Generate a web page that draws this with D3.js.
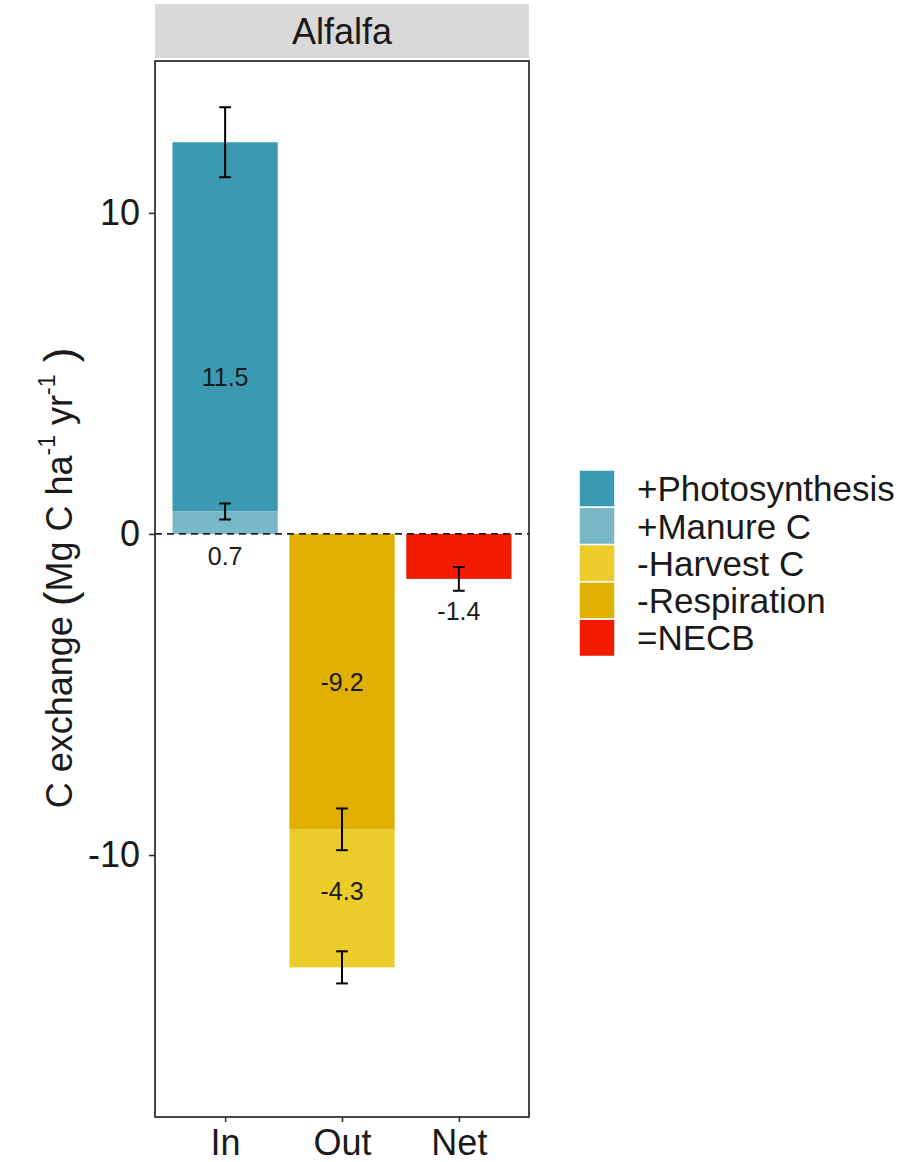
<!DOCTYPE html>
<html>
<head>
<meta charset="utf-8">
<script src="https://cdn.jsdelivr.net/npm/d3@7"></script>
<style>
  html, body { margin: 0; padding: 0; background: #fff; }
  svg { display: block; font-family: "Liberation Sans", Arial, sans-serif; }
</style>
</head>
<body>
<svg id="chart" width="915" height="1162"></svg>
<script>
// ---- data ----
const facetTitle = "Alfalfa";
const categories = ["In", "Out", "Net"];
const components = ["+Photosynthesis", "+Manure C", "-Harvest C", "-Respiration", "=NECB"];
const componentCategory = ["In", "In", "Out", "Out", "Net"];
const componentValues = [11.5, 0.7, -4.3, -9.2, -1.4];
const componentErrors = [1.09, 0.25, 0.5, 0.65, 0.37];
const labelPositions = [4.89, -0.69, -11.14, -4.63, -2.40];
const componentColors = ["#3B9AB2", "#78B7C5", "#EBCC2A", "#E1AF00", "#F21A00"];
const yTicks = [-10, 0, 10];
const yTickLabels = ["-10", "0", "10"];
const yDomain = [-18.16, 14.73];

// ---- layout ----
const svg = d3.select("#chart");
const panel = { left: 155, right: 529, top: 61, bottom: 1117 };
const strip = { top: 4, bottom: 58 };

const x = d3.scalePoint().domain(categories).range([panel.left, panel.right]).padding(0.6);
const step = x.step();
const barW = step * 0.9;
const y = d3.scaleLinear().domain(yDomain).range([panel.bottom, panel.top]);
const color = d3.scaleOrdinal().domain(components).range(componentColors);

// stack (ggplot stacks in reverse of legend order)
const rows = components.map((c, i) => ({
  name: c, cat: componentCategory[i], value: componentValues[i],
  err: componentErrors[i], labelY: labelPositions[i]
}));
const posTop = {}, negTop = {};
categories.forEach(c => { posTop[c] = 0; negTop[c] = 0; });
rows.slice().reverse().forEach(r => {
  if (r.value >= 0) { r.y0 = posTop[r.cat]; r.y1 = r.y0 + r.value; posTop[r.cat] = r.y1; }
  else { r.y0 = negTop[r.cat]; r.y1 = r.y0 + r.value; negTop[r.cat] = r.y1; }
});

// strip
svg.append("rect")
  .attr("x", panel.left).attr("y", strip.top)
  .attr("width", panel.right - panel.left).attr("height", strip.bottom - strip.top)
  .attr("fill", "#D9D9D9");
svg.append("text")
  .attr("x", (panel.left + panel.right) / 2).attr("y", (strip.top + strip.bottom) / 2 + 13)
  .attr("text-anchor", "middle").attr("font-size", 36).attr("fill", "#1A1A1A")
  .text(facetTitle);

// bars
svg.append("g").selectAll("rect").data(rows).join("rect")
  .attr("x", d => x(d.cat) - barW / 2)
  .attr("width", barW)
  .attr("y", d => y(Math.max(d.y0, d.y1)))
  .attr("height", d => Math.abs(y(d.y0) - y(d.y1)))
  .attr("fill", d => color(d.name));

// zero line
svg.append("line")
  .attr("x1", panel.left).attr("x2", panel.right)
  .attr("y1", y(0)).attr("y2", y(0))
  .attr("stroke", "#222").attr("stroke-width", 1.8).attr("stroke-dasharray", "7,5");

// error bars
const capW = step * 0.1;
const eb = svg.append("g").attr("stroke", "#000").attr("stroke-width", 2).attr("fill", "none");
rows.forEach(r => {
  const cx = x(r.cat);
  const lo = y(r.y1 - r.err), hi = y(r.y1 + r.err);
  eb.append("line").attr("x1", cx).attr("x2", cx).attr("y1", lo).attr("y2", hi);
  eb.append("line").attr("x1", cx - capW / 2).attr("x2", cx + capW / 2).attr("y1", lo).attr("y2", lo);
  eb.append("line").attr("x1", cx - capW / 2).attr("x2", cx + capW / 2).attr("y1", hi).attr("y2", hi);
});

// value labels
svg.append("g").selectAll("text").data(rows).join("text")
  .attr("x", d => x(d.cat))
  .attr("y", d => y(d.labelY))
  .attr("dy", "0.35em")
  .attr("text-anchor", "middle").attr("font-size", 25).attr("fill", "#1A1A1A")
  .text(d => d.value.toFixed(1));

// panel border
svg.append("rect")
  .attr("x", panel.left).attr("y", panel.top)
  .attr("width", panel.right - panel.left).attr("height", panel.bottom - panel.top)
  .attr("fill", "none").attr("stroke", "#1A1A1A").attr("stroke-width", 1.6);

// axes
const yAxis = d3.axisLeft(y).tickValues(yTicks).tickSize(6).tickPadding(9)
  .tickFormat((d, i) => yTickLabels[i]);
const gy = svg.append("g").attr("transform", `translate(${panel.left},0)`).call(yAxis);
gy.select(".domain").remove();
gy.selectAll(".tick line").attr("stroke", "#333").attr("stroke-width", 1.6);
gy.selectAll(".tick text").attr("font-size", 36).attr("fill", "#1A1A1A")
  .attr("font-family", "Liberation Sans, Arial, sans-serif");

const xAxis = d3.axisBottom(x).tickSize(5).tickPadding(7);
const gx = svg.append("g").attr("transform", `translate(0,${panel.bottom})`).call(xAxis);
gx.select(".domain").remove();
gx.selectAll(".tick line").attr("stroke", "#333").attr("stroke-width", 1.6);
gx.selectAll(".tick text").attr("font-size", 36).attr("fill", "#1A1A1A")
  .attr("font-family", "Liberation Sans, Arial, sans-serif");

// y title
const yt = svg.append("text")
  .attr("transform", `translate(72,${(panel.top + panel.bottom) / 2 - 11}) rotate(-90)`)
  .attr("text-anchor", "middle").attr("font-size", 36).attr("fill", "#1A1A1A");
yt.append("tspan").text("C exchange ");
yt.append("tspan").attr("font-size", 44).attr("dy", 3).text("(");
yt.append("tspan").attr("dy", -3).text("Mg C ha");
yt.append("tspan").attr("font-size", 23).attr("dy", -17).text("-1");
yt.append("tspan").attr("dy", 17).text(" yr");
yt.append("tspan").attr("font-size", 23).attr("dy", -17).text("-1");
yt.append("tspan").attr("font-size", 44).attr("dy", 20).text(" )");

// legend
const lg = svg.append("g").attr("transform", "translate(579,470)");
const keyH = 37.3;
components.forEach((c, i) => {
  lg.append("rect").attr("x", 0).attr("y", i * keyH).attr("width", 36).attr("height", keyH)
    .attr("fill", color(c)).attr("stroke", "#fff").attr("stroke-width", 1.5);
  lg.append("text").attr("x", 58).attr("y", i * keyH + keyH / 2).attr("dy", "0.36em")
    .attr("font-size", 35).attr("fill", "#1A1A1A").text(c);
});
</script>
</body>
</html>
